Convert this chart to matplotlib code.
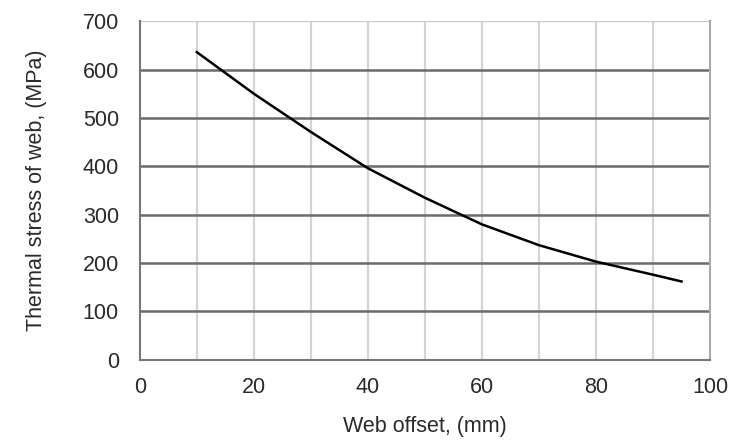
import numpy as np
import matplotlib.pyplot as plt

plt.rcParams['font.family'] = ['Liberation Sans', 'DejaVu Sans']

# Valores
offset = [10, 20, 30, 40, 50, 60, 70, 80, 90, 95]
stress = [636, 550, 471, 396, 335, 280, 237, 203, 176, 162]

fig = plt.figure(figsize=(7.32, 4.41), dpi=100)
ax = fig.add_axes([0.191, 0.184, 0.779, 0.768])

ax.set_xlim(0, 100)
ax.set_ylim(0, 700)
ax.set_xticks(np.arange(0, 101, 20))
ax.set_yticks(np.arange(0, 701, 100))

# lineas de cuadricula
for xv in np.arange(10, 100, 10):
    ax.axvline(xv, color='#d4d4d4', lw=1.6, zorder=1)
for yv in np.arange(100, 700, 100):
    ax.axhline(yv, color='#6a6a6a', lw=1.8, zorder=2)
ax.axhline(700, color='#c8c8c8', lw=1.6, zorder=2)

ax.plot(offset, stress, color='black', lw=1.8, zorder=3)

for s in ['left', 'bottom']:
    ax.spines[s].set_color('#777777')
    ax.spines[s].set_linewidth(1.5)
ax.spines['right'].set_color('#aaaaaa')
ax.spines['right'].set_linewidth(1.5)
ax.spines['top'].set_visible(False)

ax.tick_params(length=0, labelsize=15.5, colors='#2a2a2a')
ax.tick_params(axis='y', pad=15)
ax.tick_params(axis='x', pad=12)
ax.set_xlabel('Web offset, (mm)', fontsize=15.5, color='#2a2a2a', labelpad=13)
ax.set_ylabel('Thermal stress of web, (MPa)', fontsize=15.5, color='#2a2a2a', labelpad=26)

plt.savefig('out.png', dpi=100)
